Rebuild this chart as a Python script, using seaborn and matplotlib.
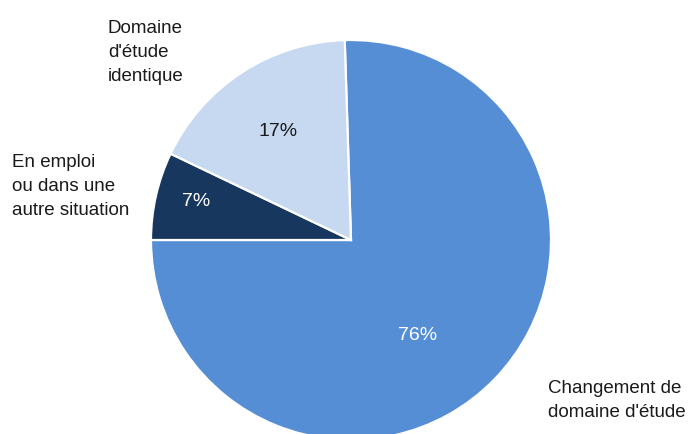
import matplotlib
matplotlib.use("Agg")
from matplotlib import pyplot as plt
import seaborn as sns

# data, clockwise from the top
labels = ["Changement de\ndomaine d'étude", "En emploi\nou dans une\nautre situation", "Domaine\nd'étude\nidentique"]
shares = [75.5, 7.1, 17.4]
colors = ["#558ED5", "#17375E", "#C6D9F1"]
pct_colors = ["white", "white", "#1a1a1a"]

# annotation positions (data units, pie radius = 1); labels anchored on their last baseline
pct_pos = [(0.335, -0.48), (-0.775, 0.19), (-0.365, 0.54)]
label_pos = [(0.985, -0.885), (-1.695, 0.125), (-1.215, 0.795)]

sns.set_theme(style="white")
plt.rcParams["font.family"] = ["Liberation Sans", "DejaVu Sans"]

fig = plt.figure(figsize=(6.89, 4.34), dpi=100)
ax = fig.add_axes([0, 0, 1, 1])

wedges, texts, autotexts = ax.pie(
    shares, colors=colors, startangle=91.8, counterclock=False, radius=1.0,
    autopct="%.0f%%", wedgeprops=dict(edgecolor="white", linewidth=1.6),
    textprops=dict(fontsize=14))

for t, p, c in zip(autotexts, pct_pos, pct_colors):
    t.set_position(p)
    t.set_color(c)

for lab, (x, y) in zip(labels, label_pos):
    ax.text(x, y, lab, ha="left", va="baseline", fontsize=13.5, color="#1a1a1a",
            linespacing=1.55)

ax.set_xlim(-1.755, 1.69)
ax.set_ylim(-0.97, 1.2)
ax.set_aspect("equal")
ax.axis("off")

fig.savefig("out.png", dpi=100)
